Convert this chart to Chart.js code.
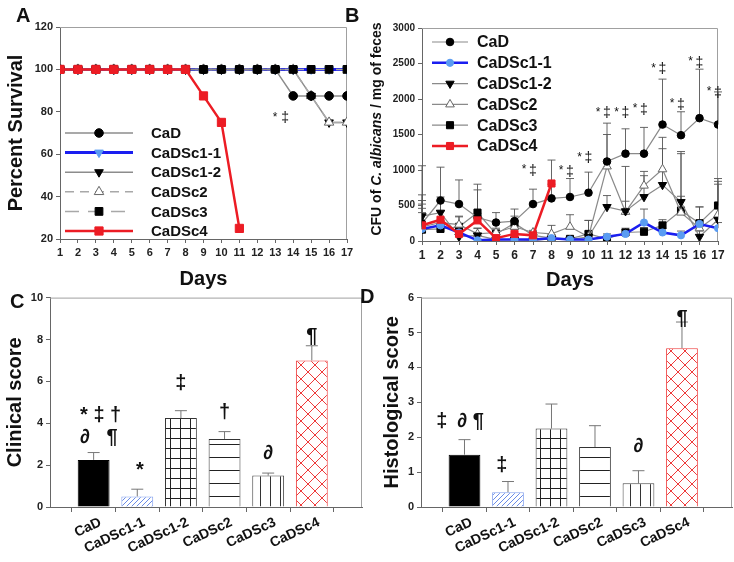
<!DOCTYPE html>
<html>
<head>
<meta charset="utf-8">
<script src="https://cdn.jsdelivr.net/npm/chart.js@4.4.1/dist/chart.umd.min.js"></script>
<style>
  body { margin: 0; background: #fff; }
  #page { position: relative; width: 734px; height: 562px; overflow: hidden; }
  #page canvas { position: absolute; }
  .tag { position: absolute; z-index: 2; font: bold 20px/20px 'Liberation Sans', Arial, sans-serif; color: #111; }
</style>
</head>
<body>
<div id="page">
  <canvas id="chartA" width="365" height="292" style="left:0;top:0"></canvas>
  <canvas id="chartB" width="364" height="292" style="left:370px;top:0"></canvas>
  <canvas id="chartC" width="370" height="274" style="left:0;top:288px"></canvas>
  <canvas id="chartD" width="364" height="274" style="left:370px;top:288px"></canvas>
  <div class="tag" style="left:16px;top:5px">A</div>
  <div class="tag" style="left:345px;top:5px">B</div>
  <div class="tag" style="left:10px;top:291px">C</div>
  <div class="tag" style="left:360px;top:286px">D</div>
</div>
<script>
const days = [1, 2, 3, 4, 5, 6, 7, 8, 9, 10, 11, 12, 13, 14, 15, 16, 17];
const groups = ['CaD', 'CaDSc1-1', 'CaDSc1-2', 'CaDSc2', 'CaDSc3', 'CaDSc4'];

// A - percent survival
const survCaD   = [100, 100, 100, 100, 100, 100, 100, 100, 100, 100, 100, 100, 100, 87.5, 87.5, 87.5, 87.5];
const survSc1_1 = [100, 100, 100, 100, 100, 100, 100, 100, 100, 100, 100, 100, 100, 100, 100, 100, 100];
const survSc1_2 = [100, 100, 100, 100, 100, 100, 100, 100, 100, 100, 100, 100, 100, 100, 87.5, 75, 75];
const survSc2   = [100, 100, 100, 100, 100, 100, 100, 100, 100, 100, 100, 100, 100, 100, 87.5, 75, 75];
const survSc3   = [100, 100, 100, 100, 100, 100, 100, 100, 100, 100, 100, 100, 100, 100, 100, 100, 100];
const survSc4   = [100, 100, 100, 100, 100, 100, 100, 100, 87.5, 75, 25];

// B - CFU / mg feces, mean and upper SD
const cfuCaD   = [250, 570, 520, 330, 260, 280, 520, 600, 620, 680, 1120, 1230, 1230, 1640, 1490, 1730, 1640];
const cfuSc1_1 = [170, 220, 120, 10, 20, 20, 20, 40, 20, 20, 60, 100, 260, 120, 80, 240, 180];
const cfuSc1_2 = [350, 400, 60, 80, 20, 20, 10, 30, 20, 60, 480, 420, 620, 790, 550, 60, 300];
const cfuSc2   = [200, 260, 230, 100, 120, 200, 120, 100, 200, 60, 1050, 410, 780, 1010, 400, 180, 370];
const cfuSc3   = [160, 170, 200, 400, 100, 250, 80, 40, 30, 100, 30, 120, 130, 220, 430, 250, 500];
const cfuSc4   = [220, 300, 100, 290, 40, 100, 80, 810];
const sdCaD   = [810, 470, 340, 470, 140, 170, 210, 200, 260, 290, 540, 350, 370, 640, 330, 690, 460];
const sdSc1_1 = [230, 60, 40, 20, 20, 20, 20, 30, 20, 20, 40, 60, 190, 60, 60, 240, 80];
const sdSc1_2 = [300, 220, 120, 100, 40, 40, 30, 40, 40, 80, 160, 630, 300, 510, 680, 80, 500];
const sdSc2   = [370, 300, 120, 80, 60, 80, 30, 120, 170, 230, 450, 150, 200, 450, 230, 100, 470];
const sdSc3   = [360, 120, 140, 320, 60, 100, 40, 40, 30, 190, 40, 60, 60, 80, 830, 230, 380];
const sdSc4   = [240, 120, 80, 100, 40, 60, 40, 330];
const sigDaysB = [7, 9, 10, 11, 12, 13, 14, 15, 16, 17];
const sigValB  = [990, 975, 1165, 1800, 1800, 1850, 2415, 1920, 2510, 2085];

// C - clinical score
const clinical    = [2.25, 0.5, 4.25, 3.25, 1.5, 7.0];
const clinicalErr = [0.35, 0.35, 0.35, 0.35, 0.12, 0.7];
const noteTextC = ['* ‡ †', '∂   ¶', '*', '‡', '†', '∂', '¶'];
const noteXC    = [1.16, 1.12, 2.06, 3, 4, 5, 6];
const noteYC    = [4.36, 3.3, 1.75, 5.9, 4.5, 2.55, 8.15];

// D - histological score
const histo    = [1.5, 0.42, 2.25, 1.72, 0.68, 4.55];
const histoErr = [0.43, 0.31, 0.7, 0.61, 0.36, 0.75];
const noteTextD = ['‡', '∂ ¶', '‡', '∂', '¶'];
const noteXD    = [0.48, 1.14, 1.86, 5, 6];
const noteYD    = [2.44, 2.44, 1.19, 1.73, 5.4];

const FONT = "'Liberation Sans', Arial, sans-serif";
const RED = '#ec1c24', BLUE = '#1a1ef0', LBLUE = '#5a9cf2', GREY = '#8c8c8c';
Chart.defaults.font.family = FONT;
Chart.defaults.color = '#111';

const xy = (vals) => vals.map((v, i) => ({ x: days[i], y: v }));

// ---------- small plugins ----------
const frame = {
  id: 'frame',
  beforeDatasetsDraw(chart) {
    const { ctx, chartArea: a } = chart;
    ctx.save();
    ctx.strokeStyle = '#a0a0a0';
    ctx.lineWidth = 1;
    ctx.beginPath();
    ctx.moveTo(a.left, a.top + 0.5);
    ctx.lineTo(a.right - 0.5, a.top + 0.5);
    ctx.lineTo(a.right - 0.5, a.bottom);
    ctx.stroke();
    ctx.restore();
  }
};

const errBars = {
  id: 'errBars',
  beforeDatasetsDraw(chart, args, opts) {
    const ctx = chart.ctx, ys = chart.scales.y;
    chart.data.datasets.forEach((ds, i) => {
      if (!ds.errors) return;
      chart.getDatasetMeta(i).data.forEach((el, j) => {
        const d = ds.data[j], e = ds.errors[j];
        if (d == null || !e) return;
        const v = typeof d === 'object' ? d.y : d;
        const y0 = ys.getPixelForValue(v), y1 = ys.getPixelForValue(v + e);
        ctx.save();
        ctx.strokeStyle = opts.color || '#555';
        ctx.lineWidth = opts.width || 1;
        ctx.beginPath();
        ctx.moveTo(el.x, y0); ctx.lineTo(el.x, y1);
        ctx.moveTo(el.x - opts.cap, y1); ctx.lineTo(el.x + opts.cap, y1);
        ctx.stroke();
        ctx.restore();
      });
    });
  }
};

const notes = {
  id: 'notes',
  afterDatasetsDraw(chart, args, opts) {
    if (!opts.layers) return;
    const ctx = chart.ctx, xs = chart.scales.x, ys = chart.scales.y;
    opts.layers.forEach(L => {
      L.x.forEach((xv, i) => {
        ctx.save();
        ctx.font = L.font;
        ctx.fillStyle = '#111';
        ctx.textAlign = 'center';
        ctx.textBaseline = 'middle';
        const t = Array.isArray(L.text) ? L.text[i] : L.text;
        ctx.fillText(t, xs.getPixelForValue(xv) + (L.dx || 0), ys.getPixelForValue(L.y[i]) + (L.dy || 0));
        ctx.restore();
      });
    });
  }
};

const legendBox = {
  id: 'legendBox',
  afterDatasetsDraw(chart, args, o) {
    if (!o.font) return;
    const ctx = chart.ctx;
    chart.data.datasets.forEach((ds, i) => {
      const y = o.y + i * o.rowH;
      ctx.save();
      ctx.strokeStyle = ds.borderColor;
      ctx.lineWidth = ds.borderWidth;
      ctx.setLineDash(ds.borderDash || []);
      ctx.beginPath(); ctx.moveTo(o.x0, y); ctx.lineTo(o.x1, y); ctx.stroke();
      ctx.setLineDash([]);
      ctx.fillStyle = ds.pointBackgroundColor;
      ctx.strokeStyle = ds.pointBorderColor;
      ctx.lineWidth = 1;
      Chart.helpers.drawPoint(ctx, {
        pointStyle: ds.pointStyle, rotation: ds.pointRotation || 0,
        radius: ds.pointRadius, borderWidth: 1
      }, (o.x0 + o.x1) / 2, y);
      ctx.fillStyle = '#111';
      ctx.font = o.font;
      ctx.textAlign = 'left';
      ctx.textBaseline = 'middle';
      ctx.fillText(ds.label, o.textX, y + 1);
      ctx.restore();
    });
  }
};

const sideTitle = {
  id: 'sideTitle',
  afterDraw(chart, args, o) {
    if (!o.parts) return;
    const ctx = chart.ctx;
    ctx.save();
    ctx.translate(o.x, o.y);
    ctx.rotate(-Math.PI / 2);
    let total = 0;
    const w = o.parts.map(p => { ctx.font = p.font; const m = ctx.measureText(p.text).width; total += m; return m; });
    let cx = -total / 2;
    ctx.fillStyle = '#111';
    ctx.textAlign = 'left';
    ctx.textBaseline = 'middle';
    o.parts.forEach((p, i) => { ctx.font = p.font; ctx.fillText(p.text, cx, 0); cx += w[i]; });
    ctx.restore();
  }
};

function hatch(kind, color) {
  const s = { diag: 5, grid: 10, hline: 13, vline: 10, cross: 14 }[kind];
  const c = document.createElement('canvas');
  c.width = s; c.height = s;
  const g = c.getContext('2d');
  g.fillStyle = '#fff';
  g.fillRect(0, 0, s, s);
  g.strokeStyle = color;
  g.lineWidth = 1;
  g.beginPath();
  if (kind === 'diag' || kind === 'cross') { g.moveTo(-1, s + 1); g.lineTo(s + 1, -1); }
  if (kind === 'cross') { g.moveTo(-1, -1); g.lineTo(s + 1, s + 1); }
  if (kind === 'grid' || kind === 'hline') { g.moveTo(0, 0.5); g.lineTo(s, 0.5); }
  if (kind === 'grid' || kind === 'vline') { g.moveTo(0.5, 0); g.lineTo(0.5, s); }
  g.stroke();
  return g.createPattern(c, 'repeat');
}

function style(label, color, width, point, fill, edge, radius, extra) {
  return Object.assign({
    label, borderColor: color, borderWidth: width, pointStyle: point,
    pointBackgroundColor: fill, pointBorderColor: edge, pointRadius: radius,
    pointBorderWidth: 1, tension: 0, spanGaps: false
  }, extra || {});
}

function axisY(min, max, step, width, font, title) {
  return {
    type: 'linear', min, max,
    ticks: { stepSize: step, font: { size: font, weight: 'bold' }, color: '#222', padding: 3, callback: v => String(v) },
    grid: { drawOnChartArea: false, tickLength: 4, color: '#666' },
    border: { color: '#666' },
    title: title || { display: false },
    afterFit: s => { s.width = width; }
  };
}

function dayAxis(height, font) {
  return {
    type: 'linear', min: 1, max: 17,
    ticks: { stepSize: 1, autoSkip: false, maxRotation: 0, font: { size: font, weight: 'bold' }, color: '#222', padding: 3 },
    grid: { drawOnChartArea: false, tickLength: 4, color: '#666' },
    border: { color: '#666' },
    title: { display: true, text: 'Days', font: { size: 20, weight: 'bold' }, color: '#111', padding: { top: 0, bottom: 0 } },
    afterFit: s => { s.height = height; }
  };
}

function groupAxis(height) {
  return {
    type: 'linear', min: 0, max: 7.15, offset: false,
    afterBuildTicks: s => { s.ticks = groups.map((g, i) => ({ value: i + 1 })); },
    ticks: {
      autoSkip: false, minRotation: 25, maxRotation: 25, padding: 2, labelOffset: 7,
      font: { size: 14, weight: 'bold' }, color: '#111',
      callback: v => groups[v - 1] || ''
    },
    grid: { drawOnChartArea: false, tickLength: 5, color: '#666' },
    border: { color: '#666' },
    afterFit: s => { s.height = height; }
  };
}

const base = { responsive: false, animation: false, events: [] };

// ---------- A ----------
new Chart(document.getElementById('chartA'), {
  type: 'line',
  data: {
    datasets: [
      style('CaD', GREY, 1.5, 'circle', '#000', '#000', 4.3, { data: xy(survCaD), order: -2 }),
      style('CaDSc1-1', BLUE, 3, 'triangle', LBLUE, LBLUE, 5, { data: xy(survSc1_1), pointRotation: 180, order: 2 }),
      style('CaDSc1-2', GREY, 1.5, 'triangle', '#000', '#000', 5, { data: xy(survSc1_2), pointRotation: 180, order: 1 }),
      style('CaDSc2', '#a8a8a8', 1.5, 'triangle', '#fff', '#666', 5.5, { data: xy(survSc2), borderDash: [9, 6], order: 0 }),
      style('CaDSc3', '#a8a8a8', 1.5, 'rect', '#000', '#000', 5.5, { data: xy(survSc3), borderDash: [14, 9], order: -1 }),
      style('CaDSc4', RED, 2.5, 'rect', RED, RED, 5.8, { data: xy(survSc4), order: -3 })
    ]
  },
  options: Object.assign({}, base, {
    layout: { padding: { top: 27, right: 18, left: 0, bottom: 1 } },
    scales: {
      x: dayAxis(52, 11),
      y: axisY(20, 120, 20, 60, 11, {
        display: true, text: 'Percent Survival', font: { size: 20, weight: 'bold' }, color: '#111', padding: { top: 4, bottom: 0 }
      })
    },
    plugins: {
      legend: { display: false }, tooltip: { enabled: false },
      legendBox: { x0: 65, x1: 133, y: 133, rowH: 19.6, textX: 151, font: 'bold 15px ' + FONT },
      notes: { layers: [
        { x: [13.55], y: [77], text: '‡', font: '14px ' + FONT },
        { x: [13.55], y: [77], text: '*', font: '12px ' + FONT, dx: -10 }
      ] }
    }
  }),
  plugins: [frame, errBars, notes, legendBox]
});

// ---------- B ----------
new Chart(document.getElementById('chartB'), {
  type: 'line',
  data: {
    datasets: [
      style('CaD', '#8a8a8a', 1.2, 'circle', '#000', '#000', 3.8, { data: xy(cfuCaD), errors: sdCaD }),
      style('CaDSc1-1', BLUE, 2.5, 'circle', LBLUE, LBLUE, 3.6, { data: xy(cfuSc1_1), errors: sdSc1_1 }),
      style('CaDSc1-2', '#8a8a8a', 1.2, 'triangle', '#000', '#000', 4.8, { data: xy(cfuSc1_2), errors: sdSc1_2, pointRotation: 180 }),
      style('CaDSc2', '#8a8a8a', 1.2, 'triangle', '#fff', '#666', 5, { data: xy(cfuSc2), errors: sdSc2 }),
      style('CaDSc3', '#8a8a8a', 1.2, 'rect', '#000', '#000', 5, { data: xy(cfuSc3), errors: sdSc3 }),
      style('CaDSc4', RED, 2.5, 'rect', RED, RED, 5, { data: xy(cfuSc4), errors: sdSc4, order: -1 })
    ]
  },
  options: Object.assign({}, base, {
    layout: { padding: { top: 28, right: 16, left: 0, bottom: 0 } },
    scales: {
      x: dayAxis(51, 12),
      y: axisY(0, 3000, 500, 52, 10)
    },
    plugins: {
      legend: { display: false }, tooltip: { enabled: false },
      errBars: { cap: 4, width: 0.9, color: '#555' },
      legendBox: { x0: 62, x1: 98, y: 42, rowH: 20.8, textX: 107, font: 'bold 16px ' + FONT },
      notes: { layers: [
        { x: sigDaysB, y: sigValB, text: '‡', font: '14px ' + FONT },
        { x: sigDaysB, y: sigValB, text: '*', font: '12px ' + FONT, dx: -9, dy: -1 }
      ] },
      sideTitle: { x: 7, y: 129, parts: [
        { text: 'CFU of ', font: 'bold 14px ' + FONT },
        { text: 'C. albicans', font: 'italic bold 14px ' + FONT },
        { text: ' / mg of feces', font: 'bold 14px ' + FONT }
      ] }
    }
  }),
  plugins: [frame, errBars, notes, legendBox, sideTitle]
});

// ---------- C & D ----------
const barFill = [
  '#000',
  hatch('diag', '#6a8ce8'),
  hatch('grid', '#222'),
  hatch('hline', '#222'),
  hatch('vline', '#333'),
  hatch('cross', '#ee3a3a')
];
const barEdge = ['#000', '#85a2ee', '#333', '#333', '#444', '#ee3a3a'];

function barChart(id, values, errors, yMax, yStep, yWidth, padRight, title, titlePad, nx, ny, nt) {
  new Chart(document.getElementById(id), {
    type: 'bar',
    data: {
      datasets: [{
        data: values.map((v, i) => ({ x: i + 1, y: v })),
        errors,
        backgroundColor: barFill,
        borderColor: barEdge,
        borderWidth: 1,
        categoryPercentage: 1,
        barPercentage: 0.73
      }]
    },
    options: Object.assign({}, base, {
      layout: { padding: { top: 8, right: padRight, left: 0, bottom: 0 } },
      scales: {
        x: groupAxis(55),
        y: axisY(0, yMax, yStep, yWidth, 11, {
          display: true, text: title, font: { size: 20, weight: 'bold' }, color: '#111', padding: { top: titlePad, bottom: 0 }
        })
      },
      plugins: {
        legend: { display: false }, tooltip: { enabled: false },
        errBars: { cap: 6, width: 1, color: '#777' },
        notes: { layers: [{ x: nx, y: ny, text: nt, font: 'bold 20px ' + FONT }] }
      }
    }),
    plugins: [frame, errBars, notes]
  });
}

barChart('chartC', clinical, clinicalErr, 10, 2, 50, 8, 'Clinical score', 3, noteXC, noteYC, noteTextC);
barChart('chartD', histo, histoErr, 6, 1, 51, 2, 'Histological score', 10, noteXD, noteYD, noteTextD);
</script>
</body>
</html>
